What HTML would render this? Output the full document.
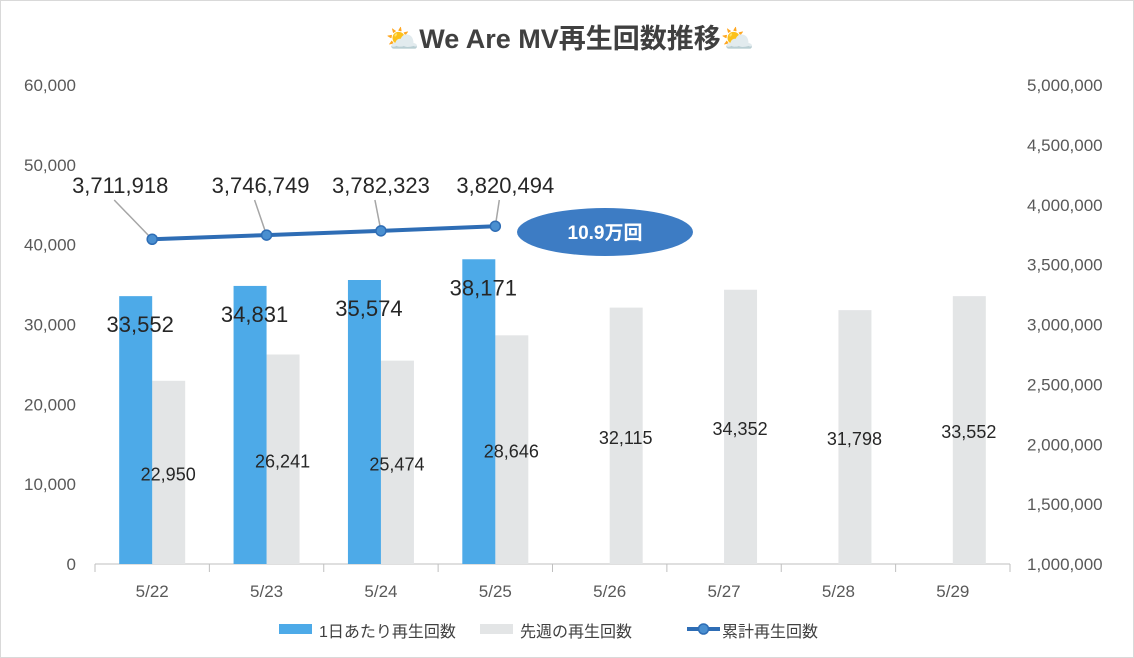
<!DOCTYPE html>
<html><head><meta charset="utf-8"><style>
body{margin:0;background:#fff;}
svg{display:block;font-family:"Liberation Sans","Noto Sans CJK JP",sans-serif;}
</style></head><body>
<svg id="c" width="1134" height="658" viewBox="0 0 1134 658">
<rect x="0.5" y="0.5" width="1133" height="657" fill="#fff" stroke="#d9d9d9"/>
<text x="570" y="48" text-anchor="middle" font-size="27" font-weight="bold" fill="#404040">⛅We Are MV再生回数推移⛅</text>
<g id="plot"></g>
<g>
<g><rect x="279" y="624" width="33" height="10" fill="#4daae8"/><text x="319" y="637" font-size="16" fill="#404040">1日あたり再生回数</text></g>
<g><rect x="480" y="624" width="33" height="10" fill="#e3e5e6"/><text x="520" y="637" font-size="16" fill="#404040">先週の再生回数</text></g>
<g><line x1="687" y1="629" x2="720" y2="629" stroke="#2e6db5" stroke-width="4"/><circle cx="703.5" cy="629" r="5" fill="#4a8fd0" stroke="#2e6db5" stroke-width="1.5"/><text x="722" y="637" font-size="16" fill="#404040">累計再生回数</text></g>
</g>
</svg>
<script>
const categories=["5/22","5/23","5/24","5/25","5/26","5/27","5/28","5/29"];
const dailyViews=[33552,34831,35574,38171];
const lastWeekViews=[22950,26241,25474,28646,32115,34352,31798,33552];
const cumulativeViews=[3711918,3746749,3782323,3820494];
const leftTicks=[0,10000,20000,30000,40000,50000,60000];
const rightTicks=[1000000,1500000,2000000,2500000,3000000,3500000,4000000,4500000,5000000];
const NS="http://www.w3.org/2000/svg";
const X0=95,X1=1010,Y0=564,Y1=85;
const bw=(X1-X0)/categories.length;
const yL=v=>Y0-(v/60000)*(Y0-Y1);
const yR=v=>Y0-((v-1000000)/4000000)*(Y0-Y1);
const cx=i=>X0+bw*(i+0.5);
const g=document.getElementById('plot');
function mk(t,a,txt){const e=document.createElementNS(NS,t);for(const k in a)e.setAttribute(k,a[k]);if(txt!==undefined)e.textContent=txt;g.appendChild(e);return e;}
const fmt=v=>v.toLocaleString('en-US');
leftTicks.forEach(v=>{const e=mk('text',{x:76,y:yL(v)+6,'text-anchor':'end','font-size':17,fill:'#595959'},fmt(v));

});
rightTicks.forEach(v=>{const e=mk('text',{x:1027,y:yR(v)+6,'font-size':17,fill:'#595959'},fmt(v));

});
const ax=mk('line',{x1:X0,y1:Y0,x2:X1,y2:Y0,stroke:'#bfbfbf','stroke-width':1});


for(let i=0;i<=categories.length;i++){const t=mk('line',{x1:X0+bw*i,y1:Y0,x2:X0+bw*i,y2:Y0+8,stroke:'#bfbfbf'});

}
categories.forEach((c,i)=>{const e=mk('text',{x:cx(i),y:Y0+33,'text-anchor':'middle','font-size':17,fill:'#595959'},c);

});
lastWeekViews.forEach((v,i)=>{const r=mk('rect',{x:cx(i),y:yL(v),width:33,height:Y0-yL(v),fill:'#e3e5e6'});

});
dailyViews.forEach((v,i)=>{const r=mk('rect',{x:cx(i)-33,y:yL(v),width:33,height:Y0-yL(v),fill:'#4daae8'});

});
lastWeekViews.forEach((v,i)=>{const t=mk('text',{x:cx(i)+16,y:(Y0+yL(v))/2+8,'text-anchor':'middle','font-size':18,fill:'#262626'},fmt(v));

});
dailyViews.forEach((v,i)=>{const t=mk('text',{x:cx(i)-12,y:yL(v)+36,'text-anchor':'middle','font-size':22,fill:'#262626'},fmt(v));

});
const labelDx=[-32,-6,0,10];
cumulativeViews.forEach((v,i)=>{const lx=cx(i)+labelDx[i];
const l=mk('line',{x1:lx-6,y1:200,x2:cx(i),y2:yR(v),stroke:'#a6a6a6','stroke-width':1.5});


const t=mk('text',{x:lx,y:193,'text-anchor':'middle','font-size':22,fill:'#262626'},fmt(v));

});
const pl=mk('polyline',{points:cumulativeViews.map((v,i)=>cx(i)+','+yR(v)).join(' '),fill:'none',stroke:'#2e6db5','stroke-width':4});


cumulativeViews.forEach((v,i)=>{const c=mk('circle',{cx:cx(i),cy:yR(v),r:5,fill:'#4a8fd0',stroke:'#2e6db5','stroke-width':1.5});

});
const el=mk('ellipse',{cx:605,cy:232,rx:88,ry:24,fill:'#3d7cc4'});


const et=mk('text',{x:605,y:239,'text-anchor':'middle','font-size':19,'font-weight':'bold',fill:'#fff'},'10.9万回');


</script>
</body></html>
